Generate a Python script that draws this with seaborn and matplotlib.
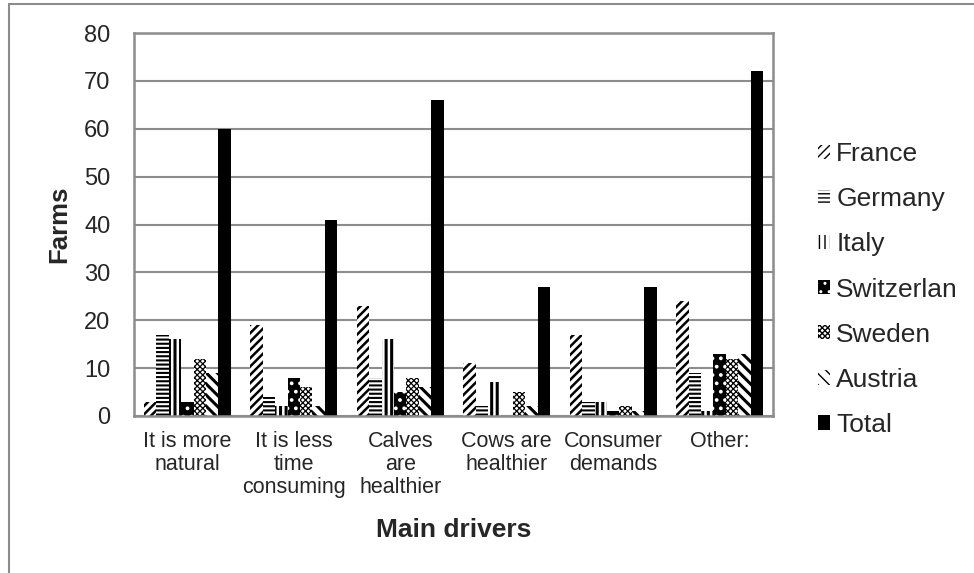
import matplotlib
matplotlib.use("Agg")
import matplotlib.pyplot as plt
import seaborn as sns
import pandas as pd
from matplotlib.patches import Rectangle

drivers = ["It is more\nnatural", "It is less\ntime\nconsuming", "Calves\nare\nhealthier",
           "Cows are\nhealthier", "Consumer\ndemands", "Other:"]
countries = ["France", "Germany", "Italy", "Switzerlan", "Sweden", "Austria", "Total"]
france = [3, 19, 23, 11, 17, 24]
germany = [17, 4, 8, 2, 3, 9]
italy = [16, 2, 16, 7, 3, 1]
switzerland = [3, 8, 5, 0, 1, 13]
sweden = [12, 6, 8, 5, 2, 12]
austria = [9, 2, 6, 2, 1, 13]
total = [60, 41, 66, 27, 27, 72]

series = [france, germany, italy, switzerland, sweden, austria, total]
rows = []
for name, vals in zip(countries, series):
    for d, v in zip(drivers, vals):
        rows.append({"driver": d, "country": name, "farms": v})
df = pd.DataFrame(rows)

sns.set_style("white")
plt.rcParams["font.family"] = ["Liberation Sans", "DejaVu Sans"]
plt.rcParams["hatch.linewidth"] = 1.6

fig = plt.figure(figsize=(9.74, 5.73), dpi=100)
ax = fig.add_axes([0.1376, 0.274, 0.656, 0.6684])

sns.barplot(data=df, x="driver", y="farms", hue="country", order=drivers,
            hue_order=countries, palette=["white"] * 7, width=0.82, gap=0,
            saturation=1, legend=False, ax=ax)

# fill colour, hatch colour, hatch, hatch line width
styles = [
    ("white", "black", "////", 1.8),
    ("white", "black", "----", 1.5),
    ("white", "black", "|||", 2.2),
    ("black", "white", "..", 1.5),
    ("white", "black", "xxxxxx", 0.9),
    ("white", "black", "\\\\\\", 2.2),
    ("black", "black", None, 1.0),
]
for cont, (fc, ec, hatch, hlw), name in zip(ax.containers, styles, countries):
    cont.set_label(name)
    for p in cont.patches:
        p.set_facecolor(fc)
        p.set_edgecolor(ec)
        p.set_hatch(hatch)
        p.set_linewidth(0)
        if hasattr(p, "set_hatch_linewidth"):
            p.set_hatch_linewidth(hlw)

ax.set_ylim(0, 80)
ax.set_yticks(range(0, 81, 10))
ax.yaxis.grid(True, color="#8c8c8c", linewidth=1.5)
ax.set_axisbelow(True)
for s in ax.spines.values():
    s.set_visible(True)
    s.set_color("#8c8c8c")
    s.set_linewidth(1.8)

ax.set_xticks([i + 0.5 for i in range(-1, 6)], minor=True)
ax.tick_params(axis="x", which="minor", length=5, color="#8c8c8c", width=1.2)
ax.tick_params(axis="x", which="major", length=0, labelsize=15.5, pad=11)
ax.tick_params(axis="y", length=0, labelsize=17, pad=17)
for t in ax.get_xticklabels():
    t.set_linespacing(1.12)
ax.set_xlabel("Main drivers", fontsize=19, fontweight="bold", labelpad=14)
ax.set_ylabel("Farms", fontsize=18.5, fontweight="bold", labelpad=9)

handles, labels = ax.get_legend_handles_labels()
leg = ax.legend(handles, labels, loc="center left", bbox_to_anchor=(1.07, 0.33),
                frameon=False, fontsize=19, handlelength=0.45, handleheight=0.45,
                handletextpad=0.25, labelspacing=0.8, borderaxespad=0, borderpad=0)
for h in leg.legend_handles:
    if hasattr(h, "set_hatch_linewidth"):
        h.set_hatch_linewidth(1.0)

fig.patches.append(Rectangle((9 / 974, -0.1), 1.2, 1.1 - 4 / 573,
                             transform=fig.transFigure, fill=False,
                             edgecolor="#8c8c8c", linewidth=1.5))

fig.savefig("out.png", dpi=100)
